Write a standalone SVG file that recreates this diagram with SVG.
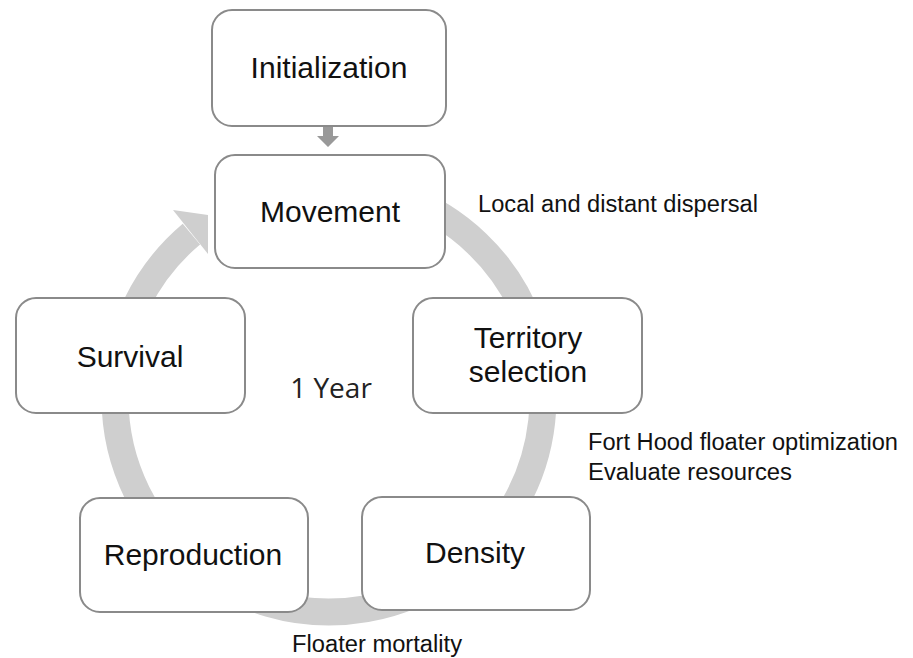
<svg xmlns="http://www.w3.org/2000/svg" width="913" height="658" viewBox="0 0 913 658">
<defs>
<style>
.box{fill:#fff;stroke:#8a8a8a;stroke-width:2}
.big{font-family:"Liberation Sans",Arial,sans-serif;font-size:30px;fill:#111;text-anchor:middle}
.lbl{font-family:"Liberation Sans",Arial,sans-serif;font-size:23px;fill:#111}
.ring{fill:none;stroke:#cfcfcf;stroke-width:27}
</style>
</defs>
<rect width="913" height="658" fill="#fff"/>
<g id="connectors">
<path class="ring" d="M402.2,196.9 A214,214 0 1 1 191.4,234.1"/>
<polygon points="173,210 208,215 208,254" fill="#cfcfcf"/>
<polygon points="323,127 333,127 333,136 339,136 328,147 317,136 323,136" fill="#999"/>
</g>
<g id="initialization"><rect class="box" x="212" y="10" width="234" height="116" rx="20"/><text class="big" x="329" y="78">Initialization</text></g>
<g id="movement"><rect class="box" x="215" y="155" width="230" height="113" rx="20"/><text class="big" x="330" y="222">Movement</text></g>
<g id="survival"><rect class="box" x="16" y="298" width="229" height="115" rx="20"/><text class="big" x="130" y="367">Survival</text></g>
<g id="territory"><rect class="box" x="413" y="298" width="229" height="115" rx="20"/><text class="big" x="528" y="348">Territory</text><text class="big" x="528" y="382">selection</text></g>
<g id="reproduction"><rect class="box" x="80" y="498" width="228" height="114" rx="20"/><text class="big" x="193" y="565">Reproduction</text></g>
<g id="density"><rect class="box" x="362" y="497" width="228" height="113" rx="20"/><text class="big" x="475" y="563">Density</text></g>
<g id="labels">
<text x="331" y="398" font-family="'Open Sans',sans-serif" font-size="28" fill="#222" text-anchor="middle">1 Year</text>
<text class="lbl" x="478" y="212" textLength="280" lengthAdjust="spacingAndGlyphs">Local and distant dispersal</text>
<text class="lbl" x="588" y="450" textLength="310" lengthAdjust="spacingAndGlyphs">Fort Hood floater optimization</text>
<text class="lbl" x="588" y="480" textLength="204" lengthAdjust="spacingAndGlyphs">Evaluate resources</text>
<text class="lbl" x="292" y="652" textLength="170" lengthAdjust="spacingAndGlyphs">Floater mortality</text>
</g>
</svg>
